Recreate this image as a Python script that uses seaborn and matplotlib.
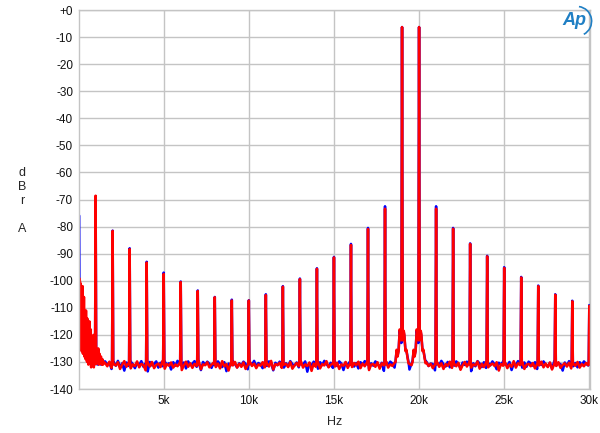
import numpy as np
import pandas as pd
import matplotlib
matplotlib.use("Agg")
import matplotlib.pyplot as plt
from matplotlib.ticker import MultipleLocator, FixedLocator
from matplotlib.patches import Arc
import seaborn as sns

# ---------------- data ----------------
harmonic_hz = [1000 * k for k in range(1, 31)]
red_peak_db = [-68.6, -81.6, -88.3, -93.3, -97.5, -100.5, -103.8, -106.1, -107.3, -107.3,
               -105.3, -102.2, -99.4, -95.6, -91.4, -86.8, -80.9, -73.4, -6.3, -6.3,
               -73.4, -80.8, -86.4, -91.0, -95.3, -98.8, -102.0, -105.2, -107.6, -109.3]
blue_peak_db = [-68.8, -81.5, -88.0, -93.0, -97.0, -100.3, -103.6, -106.0, -107.0, -107.2,
                -105.0, -102.0, -99.2, -95.4, -91.2, -86.4, -80.5, -72.5, -6.3, -6.3,
                -72.5, -80.5, -86.2, -90.8, -95.0, -98.6, -101.8, -105.0, -107.4, -109.0]
tone_hz = [19000, 20000]

floor_hz = list(range(1560, 30000, 125))
red_floor_db = [
    -130.4, -131.6, -129.9, -132.2, -130.8, -131.3, -130.1, -132.6, -131.0, -129.7,
    -131.8, -130.5, -132.4, -130.9, -131.5, -129.8, -132.0, -130.7, -131.2, -133.1,
    -130.3, -131.7, -130.0, -132.3, -131.1, -130.6, -131.9, -129.6, -132.5, -130.8,
    -131.4, -130.2, -132.1, -130.9, -131.6, -130.4, -133.0, -131.3, -129.9, -131.8,
    -130.5, -132.2, -130.7, -131.5, -129.8, -132.7, -130.9, -131.2, -130.1, -132.0,
    -131.0, -130.3, -131.9, -130.6, -132.4, -129.7, -131.6, -130.8, -133.2, -130.4,
    -131.3, -130.0, -132.1, -130.7, -131.8, -130.2, -132.6, -131.1, -129.9, -131.5,
    -130.6, -132.3, -130.9, -131.4, -130.1, -132.0, -130.5, -131.7, -129.6, -132.8,
    -130.8, -131.2, -130.3, -132.2, -131.0, -130.7, -131.9, -130.0, -132.5, -131.3,
    -130.4, -131.6, -129.8, -132.1, -130.9, -131.5, -130.2, -133.3, -130.6, -131.8,
    -130.1, -132.4, -130.8, -131.3, -129.7, -132.0, -131.1, -130.5, -131.7, -130.3,
    -132.6, -130.9, -131.4, -130.0, -132.2, -130.7, -131.9, -130.4, -131.2, -129.9,
    -132.3, -130.6, -131.6, -130.2, -133.0, -131.0, -130.8, -131.8, -130.1, -132.5,
    -130.5, -131.3, -129.8, -132.1, -130.9, -131.5, -130.3, -132.7, -131.1, -130.6,
    -131.9, -130.0, -132.4, -130.8, -131.2, -129.7, -132.0, -130.4, -131.7, -130.9,
    -133.1, -130.2, -131.5, -130.7, -132.3, -131.0, -130.1, -131.8, -130.5, -132.6,
    -130.8, -131.4, -129.9, -132.2, -130.6, -131.6, -130.3, -132.9, -131.2, -130.0,
    -131.7, -130.4, -132.1, -130.9, -131.3, -129.8, -132.5, -130.7, -131.9, -130.2,
    -132.0, -131.1, -130.6, -131.5, -130.1, -133.2, -130.8, -131.4, -130.3, -132.3,
    -130.9, -131.8, -129.7, -132.1, -130.5, -131.2, -130.0, -132.6, -131.0, -130.7,
    -131.6, -130.4, -132.4, -130.8, -131.3, -129.9, -132.0, -130.6, -131.9, -130.2,
    -132.8, -130.9, -131.5, -130.1, -132.2, -131.1, -130.5, -131.7, -130.3, -132.4,
    -130.7, -131.4, -130.0, -132.1, -130.8, -131.6, -130.4, -131.2]
blue_floor_db = [
    -129.8, -131.0, -130.3, -132.6, -130.1, -131.4, -129.6, -131.9, -130.5, -133.2,
    -130.2, -131.5, -129.9, -130.8, -132.3, -130.4, -131.2, -129.7, -131.8, -130.6,
    -133.5, -130.0, -131.3, -130.7, -129.8, -132.1, -130.3, -131.6, -129.9, -131.0,
    -130.5, -132.8, -130.1, -131.4, -129.6, -130.9, -131.7, -130.2, -132.4, -129.8,
    -131.2, -130.6, -129.7, -131.8, -130.4, -133.0, -130.0, -131.1, -129.9, -130.7,
    -132.2, -130.3, -131.5, -129.8, -130.9, -131.9, -130.1, -133.4, -130.6, -131.3,
    -129.7, -130.8, -132.0, -130.5, -131.4, -129.9, -130.7, -132.7, -130.2, -131.1,
    -129.6, -131.7, -130.4, -130.9, -132.3, -130.0, -131.5, -129.8, -130.6, -133.1,
    -130.3, -131.2, -129.9, -130.8, -132.1, -130.5, -131.6, -129.7, -130.9, -131.3,
    -130.2, -132.0, -130.6, -131.0, -129.8, -133.6, -130.4, -131.4, -129.9, -130.7,
    -132.5, -130.1, -131.2, -129.6, -130.8, -131.8, -130.3, -132.2, -130.0, -131.5,
    -129.8, -130.6, -133.0, -130.2, -131.3, -129.9, -130.9, -131.7, -130.4, -132.4,
    -130.1, -131.1, -129.7, -130.8, -132.6, -130.5, -131.4, -129.8, -130.7, -131.9,
    -130.3, -133.3, -130.0, -131.2, -129.9, -130.6, -132.1, -130.4, -131.6, -129.7,
    -130.9, -131.3, -130.2, -132.8, -130.5, -131.0, -129.8, -130.7, -131.8, -130.1,
    -132.3, -129.9, -131.5, -130.6, -130.8, -133.1, -130.3, -131.2, -129.6, -130.9,
    -131.7, -130.0, -132.0, -130.4, -131.4, -129.8, -130.7, -132.5, -130.2, -131.1,
    -129.9, -130.8, -133.4, -130.5, -131.6, -129.7, -130.6, -131.9, -130.1, -132.2,
    -130.4, -131.3, -129.8, -130.9, -132.7, -130.3, -131.0, -129.9, -130.7, -131.5,
    -130.0, -133.0, -130.6, -131.2, -129.7, -130.8, -132.1, -130.2, -131.8, -129.9,
    -130.5, -131.4, -130.1, -132.6, -130.7, -131.1, -129.8, -130.9, -131.7, -130.3,
    -132.4, -129.9, -131.3, -130.6, -130.8, -133.2, -130.2, -131.5, -129.7, -130.9,
    -131.6, -130.4, -132.0, -130.1, -131.2, -129.8, -130.7, -131.3]

red_low_hz = [15, 35, 55, 75, 95, 115, 135, 155, 175, 195, 215, 235, 255, 275, 295, 315,
              335, 355, 375, 395, 415, 435, 455, 475, 495, 515, 535, 555, 575, 595, 615,
              635, 655, 675, 695, 715, 735, 755, 775, 795, 815, 835, 855, 875, 895, 915,
              935, 1075, 1115, 1155, 1195, 1235, 1275, 1315, 1355, 1395, 1435, 1475]
red_low_db = [-124, -99, -118, -100, -125, -101, -121, -103, -126, -106,
              -120, -102, -127, -108, -123, -106, -128, -112, -124, -114,
              -129, -111, -126, -116, -130, -114, -127, -118, -131, -117,
              -128, -115, -130, -120, -129, -118, -132, -122, -130, -121,
              -131, -124, -129, -120, -132, -123, -130,
              -126, -130, -125, -131, -127, -130, -128, -131, -129, -131, -130]
blue_low_hz = [38, 48, 60, 75, 90, 105, 130, 160, 190, 220, 260, 300, 340, 380, 420, 470,
               520, 570, 620, 680, 740, 800, 860, 920, 1080, 1140, 1200, 1260, 1320, 1380, 1440]
blue_low_db = [-76, -98, -112, -101, -119, -104, -122, -107, -124, -110,
               -125, -112, -127, -116, -128, -119, -129, -121, -130, -122,
               -131, -125, -130, -127, -129, -131, -128, -130, -131, -129, -130]

skirt_offset_hz = [-380, -320, -260, -200, -140, -100, -40, 40, 100, 140, 200, 260, 320, 380]
red_skirt_db = [-130, -125.5, -128, -126, -118, -119, -122, -122, -118.5, -120, -126, -125.5, -128.5, -130.5]
blue_skirt_db = [-129.5, -126, -127.5, -125.5, -118.5, -120, -123, -121.5, -119, -121, -125.5, -126, -128, -130]
spike_base_db = -130.8
spike_half_width_hz = 35

y_ticks = list(range(0, -150, -10))
y_labels = ["+0"] + [str(v) for v in y_ticks[1:]]
x_ticks = [5000, 10000, 15000, 20000, 25000, 30000]
x_labels = ["5k", "10k", "15k", "20k", "25k", "30k"]


def build(name, low_hz, low_db, floor_db, peak_db, skirt_db):
    f, d = list(low_hz), list(low_db)
    for fr, v in zip(floor_hz, floor_db):
        if min(abs(fr - t) for t in tone_hz) < 400:
            continue
        f.append(fr)
        d.append(v)
    for h, p in zip(harmonic_hz, peak_db):
        if h in tone_hz:
            f += [h + o for o in skirt_offset_hz] + [h]
            d += list(skirt_db) + [p]
        else:
            f += [h - spike_half_width_hz, h, h + spike_half_width_hz]
            d += [spike_base_db, p, spike_base_db]
    df = pd.DataFrame({"Hz": f, "dB": d}).sort_values("Hz")
    df["ch"] = name
    return df


data = pd.concat([
    build("blue", blue_low_hz, blue_low_db, blue_floor_db, blue_peak_db, blue_skirt_db),
    build("red", red_low_hz, red_low_db, red_floor_db, red_peak_db, red_skirt_db),
], ignore_index=True)

# ---------------- plot ----------------
sns.set_theme(style="white")
plt.rcParams["font.family"] = ["Liberation Sans", "DejaVu Sans"]

fig = plt.figure(figsize=(6, 4.33), dpi=100)
ax = fig.add_axes([0.131, 0.1016, 0.8523, 0.8753])

sns.lineplot(data=data, x="Hz", y="dB", hue="ch", hue_order=["blue", "red"],
             palette={"blue": "#0000ff", "red": "#ff0000"}, estimator=None,
             sort=False, linewidth=1.8, legend=False, ax=ax)

ax.set_xlim(0, 30040)
ax.set_ylim(-140, 0)
ax.xaxis.set_major_locator(FixedLocator(x_ticks))
ax.set_xticklabels(x_labels)
ax.yaxis.set_major_locator(FixedLocator(y_ticks))
ax.set_yticklabels(y_labels)
ax.xaxis.set_minor_locator(MultipleLocator(1000))
ax.yaxis.set_minor_locator(MultipleLocator(1))

gc = "#c4c4c4"
ax.grid(True, which="major", color=gc, linewidth=1.0)
ax.set_axisbelow(True)
for s in ax.spines.values():
    s.set_color(gc)
    s.set_linewidth(1.0)

ax.tick_params(which="major", length=0, labelsize=8.5, pad=4, labelcolor="#111111")
ax.tick_params(axis="x", which="minor", direction="in", length=7, width=0.8, color=gc)
ax.tick_params(axis="y", which="minor", direction="in", length=4, width=0.6, color=gc)

ax.set_xlabel("Hz", fontsize=9, labelpad=7)
ax.set_ylabel("")
fig.text(22 / 600, 1 - 201 / 433, "d\nB\nr\n\nA", ha="center", va="center",
         fontsize=9, linespacing=1.25)

# AP logo
logo_c = "#1f7fc4"
fig.text(0.958, 0.952, "Ap", ha="center", va="center", fontsize=13,
         style="italic", fontweight="bold", color=logo_c)
fig.add_artist(Arc((0.962, 0.951), 0.048, 0.068, theta1=-70, theta2=85,
                   transform=fig.transFigure, color=logo_c, lw=1.2))

fig.savefig("out.png", dpi=100, facecolor="white")
